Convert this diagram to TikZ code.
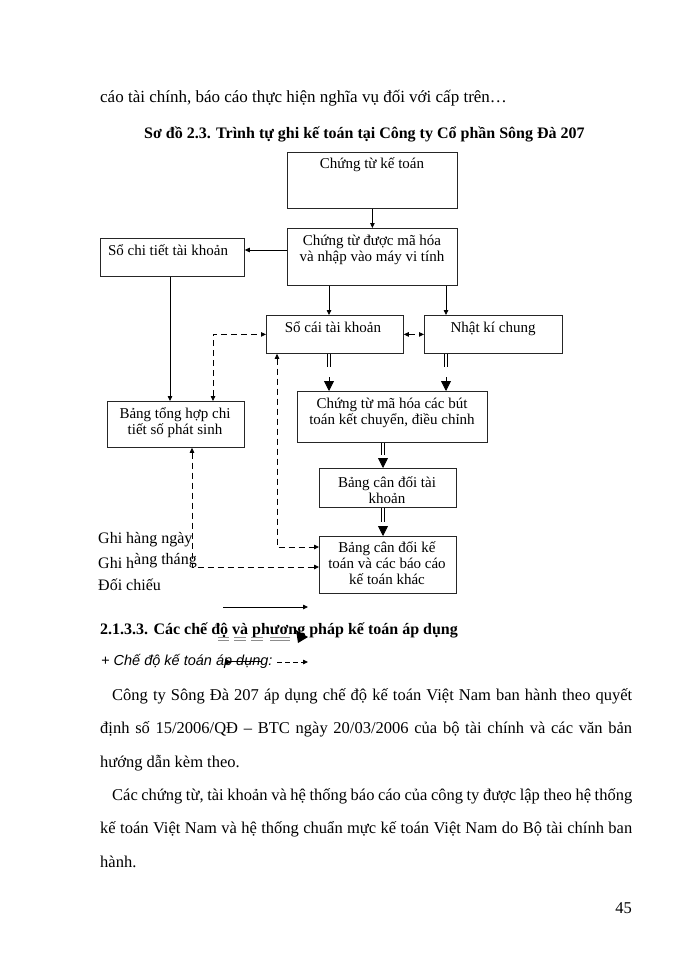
\documentclass[tikz,border=0pt]{standalone}
\usepackage{fontspec}
\setmainfont{Liberation Serif}
\setsansfont{Liberation Sans}
\usetikzlibrary{arrows.meta}
\begin{document}
\begin{tikzpicture}[x=1pt,y=-1pt,
  box/.style={draw=black!85, line width=0.8pt, inner sep=0, anchor=north west},
  btxt/.style={font=\fontsize{15}{16}\selectfont, inner sep=0, anchor=base},
  body/.style={font=\fontsize{16.5}{20}\selectfont, inner sep=0, anchor=base west},
  bodyb/.style={body, font=\fontsize{16}{20}\selectfont\bfseries},
  conn/.style={line width=0.8pt, -{Triangle[length=5pt,width=4.5pt]}},
  dconn/.style={line width=0.8pt, dash pattern=on 6pt off 4pt, {Triangle[length=5pt,width=4.5pt]}-{Triangle[length=5pt,width=4.5pt]}},
  dbl/.style={line width=0.8pt, double, double distance=2.2pt},
  bigtip/.style={line width=0.8pt, -{Triangle[length=10pt,width=10pt]}}
]
\useasboundingbox[fill=white] (0,0) rectangle (700,960);

% boxes
\node[box, minimum width=170pt, minimum height=56pt] (ct) at (287,152) {};
\node[box, minimum width=170pt, minimum height=57pt] (mh) at (287,228) {};
\node[box, minimum width=144pt, minimum height=38pt] (sct) at (100,238) {};
\node[box, minimum width=137pt, minimum height=38pt] (sc) at (266,315) {};
\node[box, minimum width=138pt, minimum height=38pt] (nkc) at (424,315) {};
\node[box, minimum width=190pt, minimum height=51pt] (bt) at (297,391) {};
\node[box, minimum width=137pt, minimum height=39pt] (bcdtk) at (319,468) {};
\node[box, minimum width=137pt, minimum height=57pt] (bcdkt) at (319,536) {};
\node[box, minimum width=137pt, minimum height=46pt] (bth) at (107,401) {};

% box texts
\node[btxt] (ctT) at (372,168) {Chứng từ kế toán};
\node[btxt] (mhT) at (372,245) {\begin{tabular}[t]{@{}c@{}}Chứng từ được mã hóa\\và nhập vào máy vi tính\end{tabular}};
\node[btxt] (sctT) at (168,255) {Sổ chi tiết tài khoản};
\node[btxt] (scT) at (333,332) {Sổ cái tài khoản};
\node[btxt] (nkcT) at (493,332) {Nhật kí chung};
\node[btxt] (btT) at (392,408) {\begin{tabular}[t]{@{}c@{}}Chứng từ mã hóa các bút\\toán kết chuyển, điều chỉnh\end{tabular}};
\node[btxt] (bcdtkT) at (387,487) {\begin{tabular}[t]{@{}c@{}}Bảng cân đối tài\\khoản\end{tabular}};
\node[btxt] (bcdktT) at (387,552) {\begin{tabular}[t]{@{}c@{}}Bảng cân đối kế\\toán và các báo cáo\\kế toán khác\end{tabular}};
\node[btxt] (bthT) at (175,418) {\begin{tabular}[t]{@{}c@{}}Bảng tổng hợp chi\\tiết số phát sinh\end{tabular}};

% helper coordinates
\coordinate (xa) at (329,0);
\coordinate (xb) at (446,0);
\coordinate (xc) at (383,0);
\coordinate (xs) at (170,0);
\coordinate (xd) at (213,0);
\coordinate (xe) at (192,0);
\coordinate (xf) at (277,0);
\coordinate (ya) at (0,567);
\coordinate (yb) at (0,547);
\coordinate (yc) at (0,250);

% solid connectors
\draw[conn] (ct.south) -- (mh.north);
\draw[conn] (mh.west |- yc) -- (sct.east |- yc);
\draw[conn] (mh.south -| xa) -- (sc.north -| xa);
\draw[conn] (mh.south -| xb) -- (nkc.north -| xb);
\draw[conn] (sct.south -| xs) -- (bth.north -| xs);

% double connectors
\coordinate (d1a) at (329,367); \coordinate (d1b) at (329,377);
\coordinate (d2a) at (446,367); \coordinate (d2b) at (446,377);
\coordinate (d3a) at (383,455); \coordinate (d3b) at (383,458);
\coordinate (d4a) at (383,522); \coordinate (d4b) at (383,526);
\draw[dbl] (sc.south -| xa) -- (d1a); \draw[bigtip] (d1b) -- (bt.north -| xa);
\draw[dbl] (nkc.south -| xb) -- (d2a); \draw[bigtip] (d2b) -- (bt.north -| xb);
\draw[dbl] (bt.south -| xc) -- (d3a); \draw[bigtip] (d3b) -- (bcdtk.north -| xc);
\draw[dbl] (bcdtk.south -| xc) -- (d4a); \draw[bigtip] (d4b) -- (bcdkt.north -| xc);

% dashed connectors
\draw[dconn] (sc.east) -- (nkc.west);
\draw[dconn] (bth.north -| xd) |- (sc.west);
\draw[dconn] (bth.south -| xe) |- (bcdkt.west |- ya);
\draw[dconn] (sc.south -| xf) |- (bcdkt.west |- yb);

% page text
\node[body, font=\fontsize{17}{20}\selectfont] (l1) at (100,103) {cáo tài chính, báo cáo thực hiện nghĩa vụ đối với cấp trên…};
\node[bodyb] (title) at (144,139) {Sơ đồ 2.3. Trình tự ghi kế toán tại Công ty Cổ phần Sông Đà 207};

% legend
\node[body, font=\fontsize{16}{20}\selectfont] (lg1) at (98,543) {Ghi hàng ngày};
\node[body, font=\fontsize{16}{20}\selectfont] (lg2) at (98,568) {Ghi h\raisebox{4pt}{àng tháng}};
\node[body, font=\fontsize{16}{20}\selectfont] (lg3) at (98,590) {Đối chiếu};
\coordinate (la1) at (223,607); \coordinate (la2) at (308,607);
\draw[conn] (la1) -- (la2);

% heading
\node[bodyb] (hd) at (100,634) {2.1.3.3. Các chế độ và phương pháp kế toán áp dụng};
\foreach \a/\b in {218/229,234/246,251/263,270/290}{
  \draw[black!45, line width=0.5pt] (\a,637.5) -- (\b,637.5) (\a,640) -- (\b,640);
}
\fill (296,630) -- (308,637) -- (298,643) -- cycle;

\node[body, font=\sffamily\itshape\fontsize{14.5}{18}\selectfont] (it) at (101,665) {+ Chế độ kế toán áp dụng:};
\fill (225,659) -- (232,662) -- (225,665) -- cycle;
\draw[line width=0.6pt] (230,661.5) -- (262,661.5);
\coordinate (lb1) at (277,662); \coordinate (lb2) at (308,662);
\draw[line width=0.8pt, dash pattern=on 5pt off 3pt, -{Triangle[length=5pt,width=4.5pt]}] (lb1) -- (lb2);

% paragraphs
\node[body] (p1) at (112,700) {\makebox[520pt][s]{Công ty Sông Đà 207 áp dụng chế độ kế toán Việt Nam ban hành theo quyết}};
\node[body] (p2) at (100,733.5) {\makebox[532pt][s]{định số 15/2006/QĐ – BTC ngày 20/03/2006 của bộ tài chính và các văn bản}};
\node[body] (p3) at (100,767) {hướng dẫn kèm theo.};
\node[body] (p4) at (112,800) {\makebox[520pt][s]{Các chứng từ, tài khoản và hệ thống báo cáo của công ty được lập theo hệ thống}};
\node[body] (p5) at (100,833.5) {\makebox[532pt][s]{kế toán Việt Nam và hệ thống chuẩn mực kế toán Việt Nam do Bộ tài chính ban}};
\node[body] (p6) at (100,867) {hành.};
\node[body, anchor=base east] (pg) at (632,913) {45};
\end{tikzpicture}
\end{document}
